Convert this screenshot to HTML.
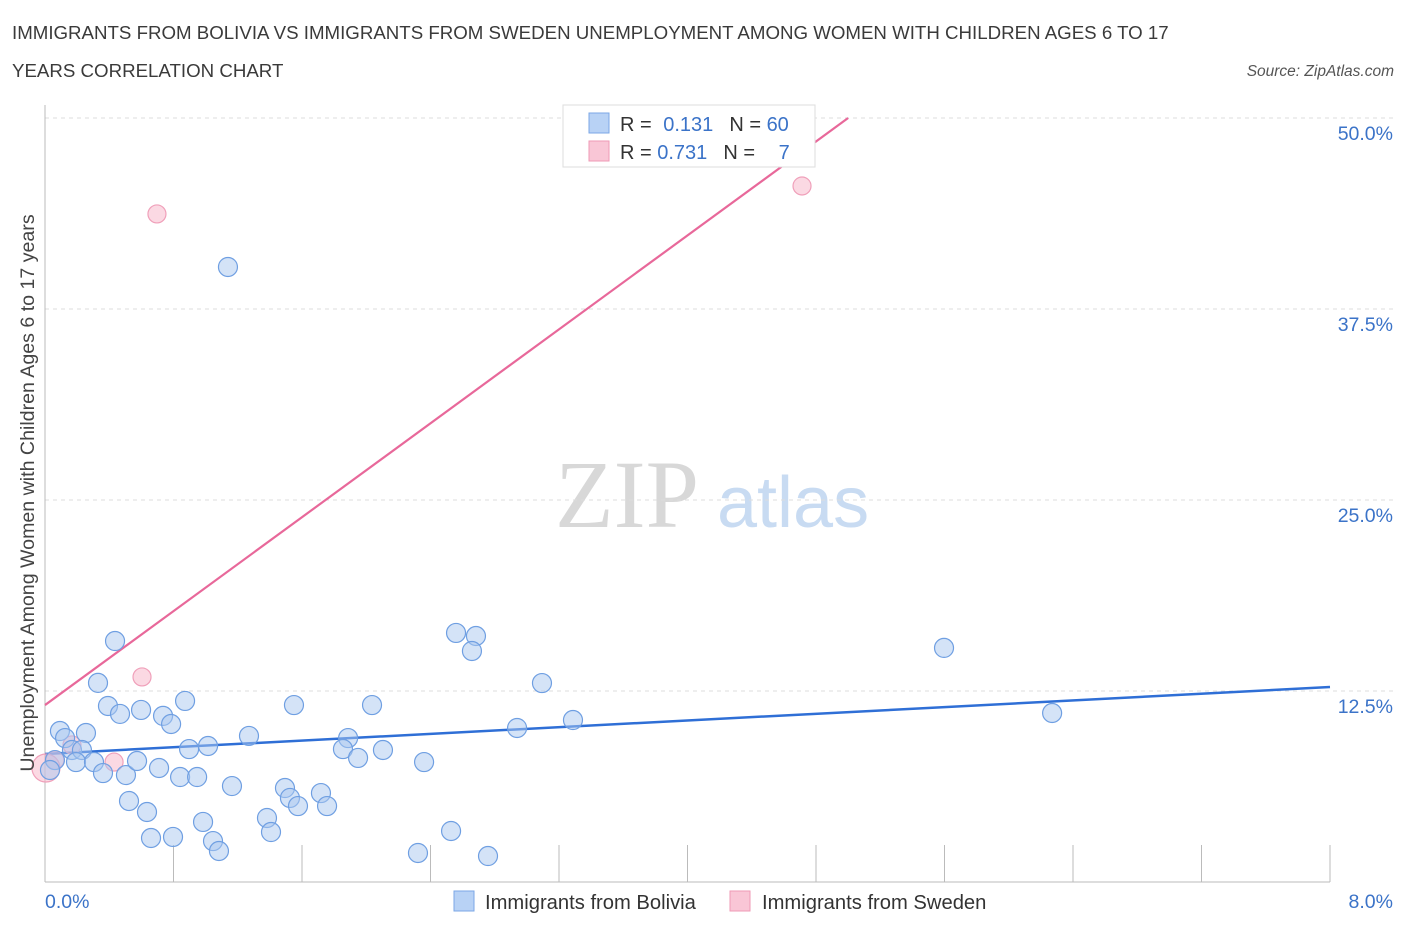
<!DOCTYPE html>
<html><head><meta charset="utf-8"><style>
body{margin:0;background:#fff;font-family:"Liberation Sans",sans-serif;}
svg{display:block}
</style></head><body>
<svg id="chart" width="1406" height="930" xmlns="http://www.w3.org/2000/svg" font-family="Liberation Sans, sans-serif">
<text x="12" y="39" font-size="18.7" fill="#3a3a3a">IMMIGRANTS FROM BOLIVIA VS IMMIGRANTS FROM SWEDEN UNEMPLOYMENT AMONG WOMEN WITH CHILDREN AGES 6 TO 17</text>
<text x="12" y="77" font-size="18.7" fill="#3a3a3a">YEARS CORRELATION CHART</text>
<text x="1394" y="76" font-size="15.5" fill="#555" font-style="italic" text-anchor="end">Source: ZipAtlas.com</text>
<g>
<text x="555" y="527" font-size="96" font-family="Liberation Serif, serif" fill="#d8d8d8">ZIP</text>
<text x="717" y="527" font-size="72" fill="#c8dbf2">atlas</text>
</g>
<g id="grid"></g>
<g id="axes"></g>
<g id="lines"></g>
<g id="points"></g>
<text transform="translate(34,493) rotate(-90)" font-size="19.6" fill="#444" text-anchor="middle">Unemployment Among Women with Children Ages 6 to 17 years</text>
<g>
<rect x="563" y="105" width="252" height="62" fill="#fff" stroke="#ddd"/>
<rect x="589" y="113" width="20" height="20" fill="#b8d2f5" stroke="#7ba7e6"/>
<rect x="589" y="141" width="20" height="20" fill="#f9c6d6" stroke="#ef9ab6"/>
<text x="620" y="131" font-size="20" fill="#333">R = <tspan fill="#3b73c8" dx="6">0.131</tspan><tspan dx="16">N = </tspan><tspan fill="#3b73c8">60</tspan></text>
<text x="620" y="159" font-size="20" fill="#333">R = <tspan fill="#3b73c8">0.731</tspan><tspan dx="16">N = </tspan><tspan fill="#3b73c8" dx="18">7</tspan></text>
</g>
<g>
<rect x="454" y="891" width="20" height="20" fill="#b8d2f5" stroke="#7ba7e6"/>
<text x="485" y="909" font-size="20.2" fill="#333">Immigrants from Bolivia</text>
<rect x="730" y="891" width="20" height="20" fill="#f9c6d6" stroke="#ef9ab6"/>
<text x="762" y="909" font-size="20.2" fill="#333">Immigrants from Sweden</text>
</g>
</svg>
<script>
const xTicks=[0,0.8,1.6,2.4,3.2,4.0,4.8,5.6,6.4,7.2,8.0];
const yTicks=[12.5,25,37.5,50];
const yTickLabels=["12.5%","25.0%","37.5%","50.0%"];
const boliviaX=[1.139,0.436,0.330,0.392,0.467,0.598,0.735,0.785,0.872,0.093,0.255,0.125,0.168,0.230,0.193,0.062,0.031,0.305,0.361,0.504,0.573,0.710,0.841,0.947,0.897,1.015,1.164,1.270,0.523,0.635,0.660,0.797,0.984,1.046,1.083,1.382,1.407,1.494,1.525,1.575,1.718,1.756,1.550,1.887,1.855,1.949,2.104,2.036,2.360,2.322,2.528,2.758,2.559,2.683,2.658,2.939,3.094,3.287,5.597,6.270];
const boliviaY=[40.25,15.77,13.03,11.52,11.0,11.26,10.87,10.34,11.85,9.88,9.75,9.42,8.64,8.64,7.85,7.98,7.33,7.85,7.13,7.0,7.92,7.46,6.87,6.87,8.70,8.90,6.28,9.56,5.30,4.58,2.88,2.95,3.93,2.68,2.03,4.19,3.27,6.15,5.50,4.97,5.82,4.97,11.58,9.42,8.70,8.12,8.64,11.58,7.85,1.90,3.34,1.70,16.30,16.10,15.12,10.08,13.02,10.60,15.32,11.06];
const swedenX=[0.697,4.713,0.604,0.430,0.168,0.062,0.006];
const swedenY=[43.72,45.55,13.42,7.85,8.97,7.98,7.46];
const boliviaTrend=[8.38,12.76];
const swedenTrend=[11.58,50.0];
const NS="http://www.w3.org/2000/svg";
const sx=v=>45+v/8*1285;
const sy=v=>882-v/12.5*191;
function mk(tag,attrs,parent){const e=document.createElementNS(NS,tag);for(const k in attrs)e.setAttribute(k,attrs[k]);document.getElementById(parent).appendChild(e);return e;}
yTicks.forEach((t,i)=>{
 let l=mk('line',{x1:45,x2:1394,y1:sy(t),y2:sy(t),stroke:'#ddd','stroke-dasharray':'4,4'},'grid');
 
 
 let tx=mk('text',{x:1393,y:sy(t)+22,'font-size':19.5,fill:'#3b73c8','text-anchor':'end'},'axes');
 tx.textContent=yTickLabels[i];
 
 
});
let ax=mk('line',{x1:45,x2:1330,y1:882,y2:882,stroke:'#bbb'},'axes');


let ay=mk('line',{x1:45,x2:45,y1:105,y2:882,stroke:'#bbb'},'axes');


xTicks.forEach(t=>{
 let l=mk('line',{x1:sx(t),x2:sx(t),y1:845,y2:882,stroke:'#bbb'},'axes');
 
 
});
let xl0=mk('text',{x:45,y:908,'font-size':19.5,fill:'#3b73c8'},'axes');xl0.textContent='0.0%';


let xl1=mk('text',{x:1393,y:908,'font-size':19.5,fill:'#3b73c8','text-anchor':'end'},'axes');xl1.textContent='8.0%';


swedenX.forEach((x,i)=>{
 let c=mk('circle',{cx:sx(x),cy:sy(swedenY[i]),r:i==6?14:9,fill:'rgba(248,180,200,0.5)',stroke:'#f0a0ba','stroke-width':1.2},'points');
 
 
});
boliviaX.forEach((x,i)=>{
 let c=mk('circle',{cx:sx(x),cy:sy(boliviaY[i]),r:9.5,fill:'rgba(170,200,240,0.5)',stroke:'#6f9fe2','stroke-width':1.2},'points');
 
 
});
let bl=mk('line',{x1:sx(0),y1:sy(boliviaTrend[0]),x2:sx(8),y2:sy(boliviaTrend[1]),stroke:'#2f6fd6','stroke-width':2.5},'lines');


let pl=mk('line',{x1:sx(0),y1:sy(swedenTrend[0]),x2:sx(5),y2:sy(swedenTrend[1]),stroke:'#e8689a','stroke-width':2.2},'lines');


</script>
</body></html>
